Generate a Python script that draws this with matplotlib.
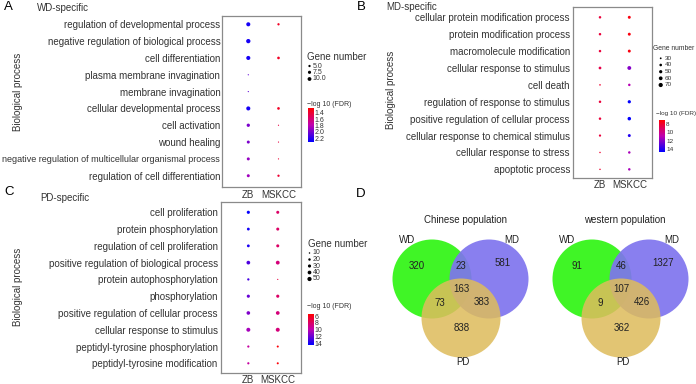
import numpy as np
import matplotlib
matplotlib.use("Agg")
import matplotlib.pyplot as plt
from matplotlib.colors import LinearSegmentedColormap, Normalize
from matplotlib.patches import Circle

plt.rcParams['font.family'] = ['Liberation Sans', 'DejaVu Sans']

# ---------------- data ----------------
datasets = ["ZB", "MSKCC"]

wd_terms = ["regulation of developmental process",
            "negative regulation of biological process",
            "cell differentiation",
            "plasma membrane invagination",
            "membrane invagination",
            "cellular developmental process",
            "cell activation",
            "wound healing",
            "negative regulation of multicellular organismal process",
            "regulation of cell differentiation"]
wd_zb_genes = [11, 12, 11, 3, 3, 11, 8, 7, 7, 7]
wd_zb_fdr = [2.25, 2.25, 2.25, 2.05, 2.05, 2.25, 1.97, 1.97, 1.9, 1.87]
wd_mskcc_genes = [5, np.nan, 6, np.nan, np.nan, 6, 3, 3, 3, 5]
wd_mskcc_fdr = [1.36, np.nan, 1.36, np.nan, np.nan, 1.36, 1.45, 1.45, 1.4, 1.4]
wd_size_ticks = [5.0, 7.5, 10.0]
wd_color_ticks = [1.4, 1.6, 1.8, 2.0, 2.2]

md_terms = ["cellular protein modification process",
            "protein modification process",
            "macromolecule modification",
            "cellular response to stimulus",
            "cell death",
            "regulation of response to stimulus",
            "positive regulation of cellular process",
            "cellular response to chemical stimulus",
            "cellular response to stress",
            "apoptotic process"]
md_zb_genes = [38, 38, 38, 42, 28, 38, 38, 35, 27, 27]
md_zb_fdr = [8.3, 8.3, 8.3, 8.6, 8.0, 8.3, 8.3, 8.3, 8.0, 8.0]
md_mskcc_genes = [45, 45, 45, 62, 38, 50, 55, 45, 38, 38]
md_mskcc_fdr = [7.3, 7.3, 7.3, 12.0, 11.0, 14.6, 14.6, 14.0, 11.3, 11.3]
md_size_ticks = [30, 40, 50, 60, 70]
md_color_ticks = [8, 10, 12, 14]

pd_terms = ["cell proliferation",
            "protein phosphorylation",
            "regulation of cell proliferation",
            "positive regulation of biological process",
            "protein autophosphorylation",
            "phosphorylation",
            "positive regulation of cellular process",
            "cellular response to stimulus",
            "peptidyl-tyrosine phosphorylation",
            "peptidyl-tyrosine modification"]
pd_zb_genes = [30, 25, 25, 40, 18, 30, 38, 45, 17, 17]
pd_zb_fdr = [14.3, 14.0, 13.8, 12.6, 12.8, 12.0, 11.4, 10.5, 9.5, 9.5]
pd_mskcc_genes = [28, 28, 28, 42, 8, 30, 40, 45, 15, 15]
pd_mskcc_fdr = [8.0, 8.0, 8.0, 8.5, 7.0, 8.0, 8.5, 8.5, 5.6, 5.6]
pd_size_ticks = [10, 20, 30, 40, 50]
pd_color_ticks = [6, 8, 10, 12, 14]

# Venn counts: WD only, MD only, PD only, WD&MD, WD&PD, MD&PD, all
venn_sets = ["WD", "MD", "PD"]
chinese_counts = [320, 581, 838, 23, 73, 383, 163]
western_counts = [91, 1327, 362, 46, 9, 426, 107]

# ---------------- setup ----------------
W, H = 696, 384
fig = plt.figure(figsize=(W / 100, H / 100), dpi=100)
cmap = LinearSegmentedColormap.from_list("rb", ["#ff0000", "#c000b0", "#0000ff"])
TXT = "#333333"


def rect(l, t, r, b):
    return [l / W, 1 - b / H, (r - l) / W, (b - t) / H]


def size_of(n, lo, hi):
    smin, smax = (0.72 * 1.2) ** 2, (0.72 * 4.3) ** 2
    return smin + (smax - smin) * (np.asarray(n, float) - lo) / (hi - lo)


def dot_panel(box, xlim, ylim, terms, zb_g, zb_f, ms_g, ms_f, lo, hi, norm,
              ypad, xpad, yfs=7):
    ax = fig.add_axes(rect(*box))
    y = np.arange(1, len(terms) + 1)
    for xi, g, f in [(1, zb_g, zb_f), (2, ms_g, ms_f)]:
        g = np.asarray(g, float)
        f = np.asarray(f, float)
        m = ~np.isnan(g)
        ax.scatter(np.full(m.sum(), xi), y[m], s=size_of(g[m], lo, hi),
                   c=f[m], cmap=cmap, norm=norm, linewidths=0, zorder=3)
    ax.set_xlim(*xlim)
    ax.set_ylim(*ylim)
    ax.set_xticks([1, 2])
    ax.set_xticklabels(datasets)
    ax.set_yticks(y)
    ax.set_yticklabels(terms)
    ax.tick_params(axis='y', length=0, pad=ypad, labelsize=yfs, labelcolor=TXT)
    ax.tick_params(axis='x', length=0, pad=xpad, labelsize=7, labelcolor=TXT)
    for sp in ax.spines.values():
        sp.set_color("#8a8a8a")
        sp.set_linewidth(0.9)
    return ax


normA = Normalize(1.25, 2.31)
normB = Normalize(7.0, 14.65)
normC = Normalize(5.4, 14.4)

axA = dot_panel((221.5, 15.7, 300.7, 187), (0.113, 2.735), (10.67, 0.489),
                wd_terms, wd_zb_genes, wd_zb_fdr, wd_mskcc_genes, wd_mskcc_fdr,
                3, 12, normA, 0.9, 1.8, yfs=7)
# the longest term is drawn a little smaller so it fits the left edge
for lab in axA.get_yticklabels():
    if len(lab.get_text()) > 45:
        lab.set_fontsize(6.5)
axB = dot_panel((572.7, 7.3, 651.7, 178.3), (0.068, 2.765), (10.53, 0.408),
                md_terms, md_zb_genes, md_zb_fdr, md_mskcc_genes, md_mskcc_fdr,
                25, 72, normB, 2.0, 1.5)
axC = dot_panel((221, 202.3, 300.7, 372.7), (0.071, 2.78), (10.56, 0.404),
                pd_terms, pd_zb_genes, pd_zb_fdr, pd_mskcc_genes, pd_mskcc_fdr,
                8, 52, normC, 2.4, 1.5)


# colorbars
def colorbar(box, norm, ticks, labels, fs):
    ax = fig.add_axes(rect(*box))
    grad = np.linspace(norm.vmin, norm.vmax, 256).reshape(-1, 1)
    ax.imshow(grad, aspect='auto', cmap=cmap, norm=norm,
              extent=[0, 1, norm.vmax, norm.vmin])
    ax.set_ylim(norm.vmax, norm.vmin)
    ax.set_xticks([])
    ax.yaxis.tick_right()
    ax.set_yticks(ticks)
    ax.set_yticklabels(labels)
    ax.tick_params(axis='y', length=0, pad=0.8, labelsize=fs, labelcolor=TXT)
    for sp in ax.spines.values():
        sp.set_visible(False)
    return ax


colorbar((307.7, 108, 313.3, 141.7), normA, wd_color_ticks,
         [f"{t:.1f}" for t in wd_color_ticks], 5)
colorbar((659.3, 120, 665, 151.7), normB, md_color_ticks,
         [str(t) for t in md_color_ticks], 4.6)
colorbar((308, 314, 313.7, 345), normC, pd_color_ticks,
         [str(t) for t in pd_color_ticks], 5)

# overlay in pixel coordinates
ov = fig.add_axes([0, 0, 1, 1], facecolor='none')
ov.set_xlim(0, W)
ov.set_ylim(H, 0)
ov.axis('off')


def T(x, y, s, fs=7, ha='center', va='center', color=TXT, **kw):
    ov.text(x, y, s, fontsize=fs, ha=ha, va=va, color=color, **kw)


# panel letters and titles
T(8.5, 7.5, "A", fs=9.5, color="black")
T(361, 7.5, "B", fs=9.5, color="black")
T(9, 192, "C", fs=9.5, color="black")
T(361, 194, "D", fs=9.5, color="black")
T(36.7, 7.6, "WD-specific", ha='left')
T(386.7, 7.0, "MD-specific", ha='left')
T(40.7, 198.3, "PD-specific", ha='left')
T(18.5, 92, "Biological process", rotation=90)
T(18.5, 287, "Biological process", rotation=90)
T(391.5, 90, "Biological process", rotation=90)


# size legends
def size_legend(x, ytitle, ys, ticks, labels, lo, hi, fs_title, fs_lab,
                xdot, xtxt):
    T(x, ytitle, "Gene number", fs=fs_title, ha='left')
    ov.scatter([xdot] * len(ticks), ys, s=size_of(ticks, lo, hi), c='black',
               linewidths=0)
    for yy, lab in zip(ys, labels):
        T(xtxt, yy, lab, fs=fs_lab, ha='left')


size_legend(306.7, 56.5, [66, 72.3, 79], wd_size_ticks,
            [f"{t:.1f}" for t in wd_size_ticks], 3, 12, 7, 5, 309.5, 312.5)
size_legend(653.3, 48.3, [58.3, 65, 71.7, 78.3, 85], md_size_ticks,
            [str(t) for t in md_size_ticks], 25, 72, 4.9, 4.6, 660.7, 664.5)
size_legend(307.7, 244, [253, 259.5, 266, 272.5, 279], pd_size_ticks,
            [str(t) for t in pd_size_ticks], 8, 52, 7, 5, 309.5, 312.8)
T(307, 104.3, "\u2212log 10 (FDR)", fs=5, ha='left')
T(655.5, 113.3, "\u2212log 10 (FDR)", fs=4.6, ha='left')
T(307.3, 306.7, "\u2212log 10 (FDR)", fs=5, ha='left')

# Venn diagrams
venn_cols = [("#40f526", 1.0), ("#7f74ee", 0.92), ("#debc5c", 0.86)]


def venn(cx, title, counts):
    centers = [(cx - 29, 279), (cx + 28, 279), (cx, 318)]
    r = 39.5
    for (c, a), ctr in zip(venn_cols, centers):
        ov.add_patch(Circle(ctr, r, facecolor=c, alpha=a, edgecolor='none'))
    T(cx + 4, 220, title, color="#222222")
    T(cx - 54, 240, venn_sets[0], color="#222222")
    T(cx + 51, 240, venn_sets[1], color="#222222")
    T(cx + 2, 362, venn_sets[2], color="#222222")
    pos = [(cx - 44, 266), (cx + 42, 263), (cx + 1, 328), (cx, 266),
           (cx - 21, 303), (cx + 21, 302), (cx, 288.5)]
    for (px, py), n in zip(pos, counts):
        T(px, py, str(n), color="#222222")


venn(461, "Chinese population", chinese_counts)
venn(621, "western population", western_counts)

fig.savefig("out.png", dpi=100)
